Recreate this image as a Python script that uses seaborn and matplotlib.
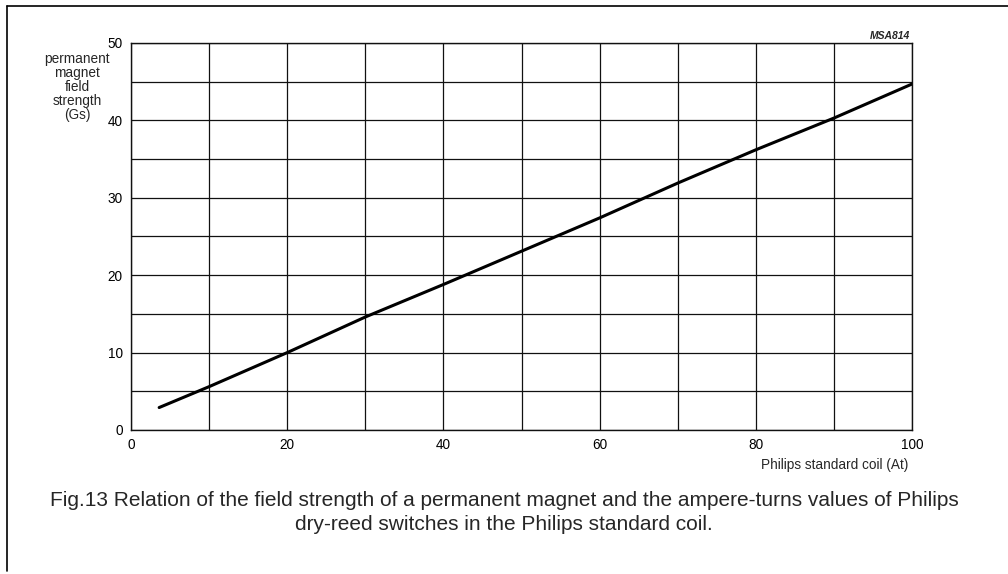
import matplotlib.pyplot as plt
import seaborn as sns
import pandas as pd
from matplotlib.lines import Line2D

# values
ampere_turns = [3.6, 10, 20, 30, 40, 50, 60, 70, 80, 90, 100]
field_gs = [2.9, 5.6, 10.0, 14.6, 18.8, 23.1, 27.4, 31.9, 36.2, 40.3, 44.7]
x_ticks = [0, 20, 40, 60, 80, 100]
y_ticks = [0, 10, 20, 30, 40, 50]

sns.set_style("white")
plt.rcParams["font.family"] = ["Liberation Sans", "DejaVu Sans"]

df = pd.DataFrame({"at": ampere_turns, "gs": field_gs})

fig = plt.figure(figsize=(10.08, 5.74), dpi=100)
ax = fig.add_axes([0.13, 0.2509, 0.7748, 0.6742])

sns.lineplot(data=df, x="at", y="gs", color="black", linewidth=2.2, ax=ax)

ax.set_xlim(0, 100)
ax.set_ylim(0, 50)
ax.set_xticks(x_ticks)
ax.set_yticks(y_ticks)
ax.set_xticks(range(0, 101, 10), minor=True)
ax.set_yticks(range(0, 51, 5), minor=True)
ax.grid(which="both", color="#111111", linewidth=0.9)
ax.set_axisbelow(True)
ax.tick_params(which="both", length=0, labelsize=9.8, pad=6, colors="black")
for s in ax.spines.values():
    s.set_color("#111111")
    s.set_linewidth(1.0)
ax.set_xlabel("")
ax.set_ylabel("")

fig.text(77 / 1008, 1 - 52 / 574, "permanent\nmagnet\nfield\nstrength\n(Gs)",
         ha="center", va="top", fontsize=9.8, linespacing=1.0)
fig.text(908 / 1008, 1 - 465 / 574, "Philips standard coil (At)",
         ha="right", va="center", fontsize=9.8)
fig.text(910 / 1008, 1 - 36 / 574, "MSA814", ha="right", va="center",
         fontsize=7.5, style="italic", weight="bold")
fig.text(504 / 1008, 1 - 500 / 574,
         "Fig.13 Relation of the field strength of a permanent magnet and the ampere-turns values of Philips",
         ha="center", va="center", fontsize=15)
fig.text(504 / 1008, 1 - 524 / 574, "dry-reed switches in the Philips standard coil.",
         ha="center", va="center", fontsize=15)

# page frame
fig.add_artist(Line2D([7 / 1008, 1.0], [1 - 6 / 574] * 2, color="black", linewidth=1.2,
                      transform=fig.transFigure))
fig.add_artist(Line2D([7 / 1008] * 2, [1 - 6 / 574, 1 - 571 / 574], color="black",
                      linewidth=1.2, transform=fig.transFigure))

fig.savefig("out.png", dpi=100)
